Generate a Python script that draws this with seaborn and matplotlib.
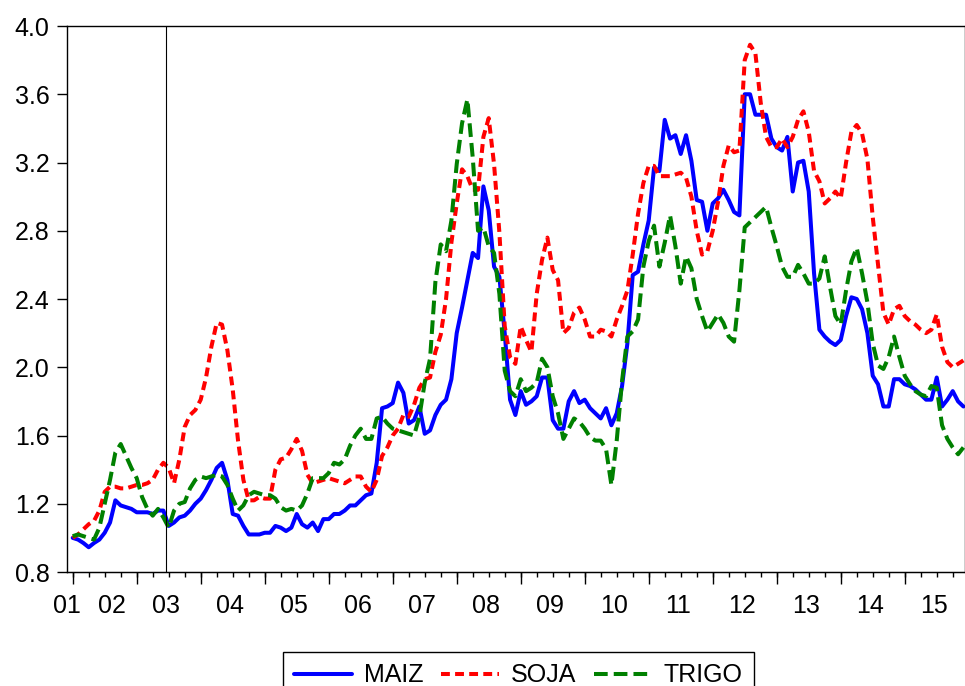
import matplotlib
matplotlib.use('Agg')
import matplotlib.pyplot as plt
import seaborn as sns
import pandas as pd
import numpy as np

# Monthly price indices (first month = 1).
maiz = [1.00, 0.99, 0.97, 0.945, 0.97, 0.99, 1.03, 1.09, 1.22, 1.19, 1.18, 1.17,
        1.15, 1.15, 1.15, 1.14, 1.16, 1.16, 1.07, 1.09, 1.12, 1.13, 1.16, 1.20,
        1.23, 1.28, 1.34, 1.41, 1.44, 1.34, 1.14, 1.13, 1.07, 1.02, 1.02, 1.02,
        1.03, 1.03, 1.07, 1.06, 1.04, 1.06, 1.14, 1.08, 1.06, 1.09, 1.04, 1.11,
        1.11, 1.14, 1.14, 1.16, 1.19, 1.19, 1.22, 1.25, 1.26, 1.44, 1.76, 1.77,
        1.79, 1.91, 1.85, 1.67, 1.69, 1.77, 1.61, 1.63, 1.72, 1.78, 1.81, 1.93,
        2.20, 2.35, 2.51, 2.67, 2.64, 3.06, 2.92, 2.59, 2.53, 2.20, 1.81, 1.72,
        1.86, 1.78, 1.80, 1.83, 1.94, 1.94, 1.69, 1.64, 1.64, 1.80, 1.86, 1.79,
        1.81, 1.76, 1.73, 1.70, 1.76, 1.66, 1.73, 1.89, 2.14, 2.54, 2.56, 2.72,
        2.86, 3.17, 3.15, 3.45, 3.34, 3.36, 3.25, 3.36, 3.21, 2.98, 2.97, 2.80,
        2.96, 2.99, 3.04, 2.98, 2.91, 2.89, 3.60, 3.60, 3.48, 3.48, 3.48, 3.34,
        3.29, 3.27, 3.35, 3.03, 3.20, 3.21, 3.03, 2.55, 2.22, 2.18, 2.15, 2.13,
        2.16, 2.30, 2.41, 2.40, 2.34, 2.20, 1.95, 1.90, 1.77, 1.77, 1.93, 1.93,
        1.90, 1.89, 1.87, 1.84, 1.81, 1.81, 1.94, 1.77, 1.81, 1.86, 1.80, 1.77]

soja = [1.00, 1.02, 1.05, 1.08, 1.10, 1.16, 1.27, 1.30, 1.30, 1.29, 1.29, 1.30,
        1.31, 1.31, 1.32, 1.34, 1.40, 1.44, 1.41, 1.32, 1.46, 1.65, 1.72, 1.75,
        1.81, 1.94, 2.12, 2.26, 2.25, 2.10, 1.87, 1.57, 1.34, 1.22, 1.22, 1.24,
        1.23, 1.23, 1.40, 1.46, 1.47, 1.52, 1.58, 1.51, 1.37, 1.32, 1.33, 1.34,
        1.35, 1.34, 1.33, 1.32, 1.34, 1.36, 1.36, 1.30, 1.27, 1.34, 1.48, 1.53,
        1.60, 1.64, 1.72, 1.71, 1.78, 1.88, 1.93, 1.94, 2.09, 2.19, 2.40, 2.73,
        2.96, 3.16, 3.12, 3.04, 3.04, 3.35, 3.46, 3.19, 2.79, 2.24, 2.06, 2.02,
        2.24, 2.16, 2.09, 2.43, 2.63, 2.76, 2.57, 2.51, 2.20, 2.23, 2.32, 2.35,
        2.28, 2.18, 2.18, 2.22, 2.21, 2.18, 2.28, 2.36, 2.45, 2.66, 2.90, 3.08,
        3.18, 3.18, 3.12, 3.12, 3.12, 3.13, 3.14, 3.11, 3.00, 2.80, 2.66, 2.68,
        2.80, 2.97, 3.18, 3.30, 3.26, 3.27, 3.80, 3.89, 3.84, 3.55, 3.35, 3.29,
        3.29, 3.34, 3.29, 3.35, 3.45, 3.50, 3.38, 3.15, 3.09, 2.96, 2.99, 3.03,
        2.99, 3.20, 3.38, 3.42, 3.37, 3.22, 2.88, 2.60, 2.32, 2.25, 2.34, 2.36,
        2.30, 2.27, 2.25, 2.22, 2.20, 2.22, 2.31, 2.12, 2.03, 2.00, 2.02, 2.04]

trigo = [1.01, 1.02, 1.01, 1.00, 0.99, 1.06, 1.20, 1.34, 1.50, 1.55, 1.48, 1.41,
         1.35, 1.24, 1.17, 1.13, 1.17, 1.12, 1.06, 1.16, 1.20, 1.21, 1.29, 1.34,
         1.36, 1.35, 1.36, 1.37, 1.36, 1.31, 1.23, 1.16, 1.19, 1.25, 1.27, 1.26,
         1.25, 1.25, 1.23, 1.18, 1.16, 1.17, 1.16, 1.19, 1.26, 1.35, 1.35, 1.35,
         1.38, 1.44, 1.43, 1.46, 1.54, 1.60, 1.64, 1.58, 1.58, 1.70, 1.71, 1.67,
         1.64, 1.63, 1.62, 1.61, 1.60, 1.71, 1.91, 2.05, 2.50, 2.72, 2.68, 2.86,
         3.19, 3.43, 3.57, 3.23, 2.80, 2.82, 2.71, 2.67, 2.43, 1.98, 1.86, 1.83,
         1.93, 1.86, 1.88, 1.91, 2.05, 2.00, 1.83, 1.73, 1.58, 1.64, 1.70, 1.68,
         1.64, 1.59, 1.57, 1.57, 1.52, 1.31, 1.57, 1.92, 2.18, 2.21, 2.28, 2.59,
         2.74, 2.83, 2.59, 2.73, 2.89, 2.71, 2.49, 2.65, 2.58, 2.40, 2.30, 2.21,
         2.26, 2.31, 2.26, 2.18, 2.15, 2.45, 2.82, 2.85, 2.88, 2.91, 2.94, 2.82,
         2.71, 2.59, 2.53, 2.53, 2.60, 2.55, 2.49, 2.49, 2.52, 2.65, 2.47, 2.30,
         2.25, 2.45, 2.62, 2.70, 2.55, 2.38, 2.14, 2.01, 1.99, 2.06, 2.18, 2.06,
         1.95, 1.90, 1.86, 1.84, 1.83, 1.89, 1.88, 1.66, 1.58, 1.53, 1.49, 1.53]

year_labels = ['01', '02', '03', '04', '05', '06', '07', '08',
               '09', '10', '11', '12', '13', '14', '15']
label_pos = [-1.0, 7.4] + [17.5 + 12 * k for k in range(13)]
break_month = 17.5

df = pd.DataFrame({'mes': np.arange(len(maiz)), 'MAIZ': maiz, 'SOJA': soja, 'TRIGO': trigo})

sns.set_style('white')
plt.rcParams['font.family'] = ['Liberation Sans', 'DejaVu Sans']
plt.rcParams['text.color'] = 'black'
plt.rcParams['xtick.color'] = 'black'
plt.rcParams['ytick.color'] = 'black'

fig = plt.figure(figsize=(9.65, 6.86), dpi=100)
ax = fig.add_axes([67 / 965, 1 - 572 / 686, 1 - 67 / 965, (572 - 26) / 686])

lw = 2.9
sns.lineplot(data=df, x='mes', y='MAIZ', ax=ax, color='#0000ff', linewidth=lw, label='MAIZ')
sns.lineplot(data=df, x='mes', y='SOJA', ax=ax, color='#ff0000', linewidth=lw, label='SOJA',
             linestyle=(0, (2.2, 1.3)))
sns.lineplot(data=df, x='mes', y='TRIGO', ax=ax, color='#008000', linewidth=lw, label='TRIGO',
             linestyle=(0, (3.4, 1.5)))
for line in ax.lines:
    line.set_linewidth(lw)

ax.axvline(break_month, color='black', lw=0.8)

ax.set_xlim(-1.07, 167.3)
ax.set_ylim(0.8, 4.0)
ax.set_xlabel('')
ax.set_ylabel('')

for s in ax.spines.values():
    s.set_visible(True)
    s.set_color('black')
    s.set_linewidth(1.0)

ax.set_yticks(np.arange(0.8, 4.01, 0.4))
ax.set_yticklabels([f'{v:.1f}' for v in np.arange(0.8, 4.01, 0.4)])
ax.tick_params(axis='y', direction='out', length=7, width=1, pad=5.5, labelsize=18,
               left=True, colors='black')

ax.set_xticks(label_pos, year_labels)
ax.set_xticks(np.arange(0, 168, 3), minor=True)
ax.tick_params(axis='x', which='major', length=0, pad=16, labelsize=18, colors='black')
ax.tick_params(axis='x', which='minor', direction='out', length=3.8, width=1, bottom=True,
               colors='black')

sec = ax.secondary_xaxis('bottom')
sec.set_xticks(np.arange(0, 168, 12))
sec.set_xticklabels([])
sec.tick_params(axis='x', direction='out', length=8.6, width=1, colors='black')

leg = ax.legend(loc='upper center', bbox_to_anchor=(518.5 / 965, 1 - 652 / 686),
                bbox_transform=fig.transFigure, ncol=3, fontsize=18, frameon=True,
                fancybox=False, edgecolor='black', framealpha=1, borderpad=0.45,
                borderaxespad=0, handlelength=2.3, handletextpad=0.5, columnspacing=0.7)
leg.get_frame().set_linewidth(1.0)
for h in leg.get_lines():
    h.set_linewidth(lw)

fig.savefig('out.png', dpi=100)
